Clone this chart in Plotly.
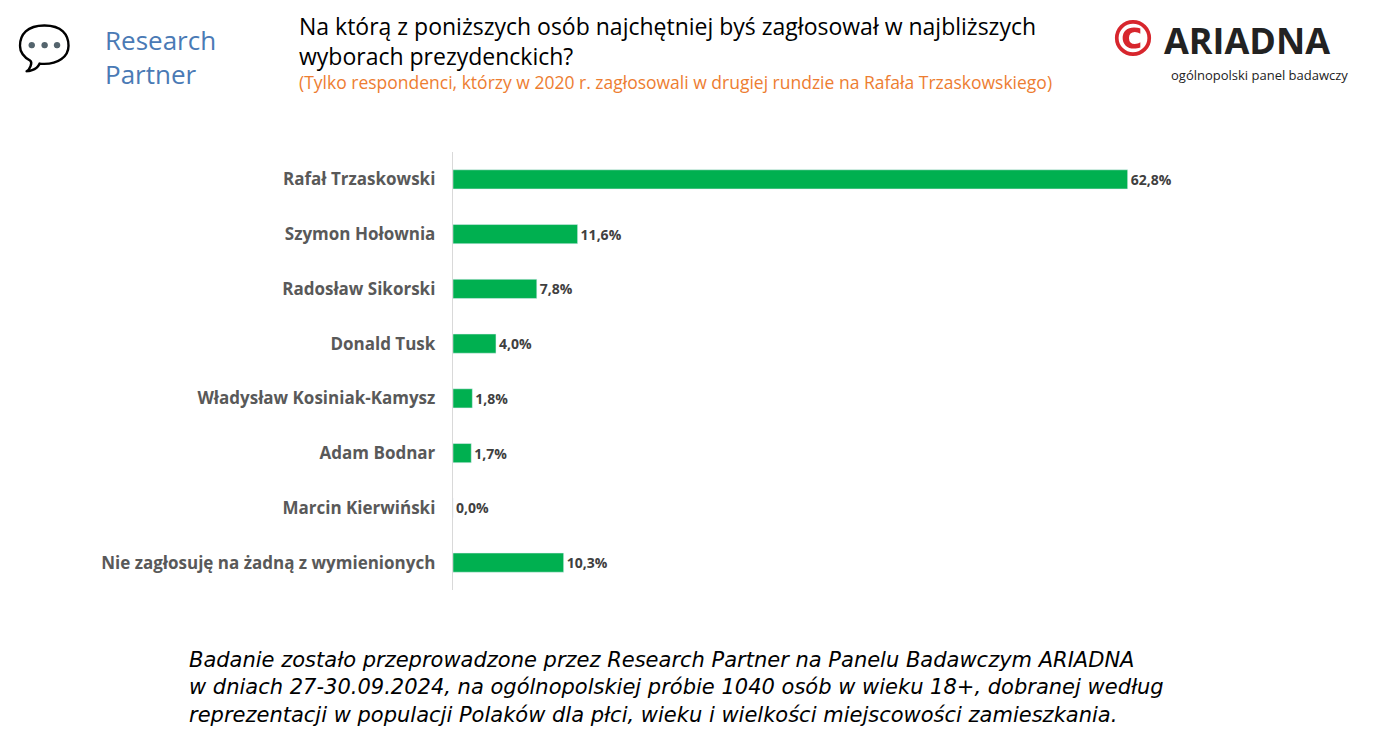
import plotly
import plotly.graph_objects as go
import numpy as np

# survey data

L, R, T, B = 445, 179, 144, 168  # plot margins in pixels (page adds 8px offset)

def px(x):
    return (x - 8 - L) / (1376 - L - R)

def py(y):
    return (750 - B - (y - 8)) / (750 - T - B)

def plotData(names, values, note):
    labels = ['<b>' + ('%.1f' % v).replace('.', ',') + '%</b>' for v in values]
    names = ['<b>' + n + '</b>' for n in names]

    fig = go.Figure()

    fig.add_trace(go.Bar(x=values, y=names, orientation='h',
                         marker_color='#00b050', width=0.35,
                         text=labels, textposition='outside',
                         textfont=dict(size=14, color='#404040', family='Open Sans'),
                         cliponaxis=False))

    fig.update_xaxes(range=[0, 70], visible=False)
    fig.update_yaxes(autorange='reversed', showline=True, linecolor='#d9d9d9',
                     ticks='', ticksuffix='   ',
                     tickfont=dict(size=17, color='#595959', family='Open Sans'))

    # titles
    fig.add_annotation(x=px(297), y=py(8), xref='paper', yref='paper', xanchor='left', yanchor='top',
                       align='left', showarrow=False,
                       text='Na którą z poniższych osób najchętniej byś zagłosował w najbliższych<br>wyborach prezydenckich?',
                       font=dict(size=23, color='black', family='Open Sans'))
    fig.add_annotation(x=px(297), y=py(68), xref='paper', yref='paper', xanchor='left', yanchor='top',
                       showarrow=False,
                       text='(Tylko respondenci, którzy w 2020 r. zagłosowali w drugiej rundzie na Rafała Trzaskowskiego)',
                       font=dict(size=17.5, color='#ed7d31', family='Open Sans'))
    # logos
    fig.add_annotation(x=px(103), y=py(20), xref='paper', yref='paper', xanchor='left', yanchor='top',
                       align='left', showarrow=False, text='Research<br>Partner',
                       font=dict(size=26, color='#4a7ab5', family='Open Sans'))
    fig.add_annotation(x=px(15), y=py(14), xref='paper', yref='paper', xanchor='left', yanchor='top',
                       showarrow=False, text='💬', font=dict(size=44, color='#4a7ab5'))
    fig.add_annotation(x=px(1106), y=py(8), xref='paper', yref='paper', xanchor='left', yanchor='top',
                       showarrow=False, text='<b>©</b>', font=dict(size=50, color='#d7262d', family='DejaVu Sans'))
    fig.add_annotation(x=px(1162), y=py(14), xref='paper', yref='paper', xanchor='left', yanchor='top',
                       showarrow=False, text='<b>ARIADNA</b>', font=dict(size=36, color='#222222', family='Open Sans'))
    fig.add_annotation(x=px(1350), y=py(64), xref='paper', yref='paper', xanchor='right', yanchor='top',
                       showarrow=False, text='ogólnopolski panel badawczy',
                       font=dict(size=13, color='#222222', family='Open Sans'))
    # footnote
    fig.add_annotation(x=px(187), y=py(646), xref='paper', yref='paper', xanchor='left', yanchor='top',
                       align='left', showarrow=False, text=note,
                       font=dict(size=21, color='black', family='DejaVu Sans'))

    fig.update_layout(showlegend=False, width=1376, height=750,
                      plot_bgcolor='white', paper_bgcolor='white',
                      margin=dict(l=L, r=R, t=T, b=B))
    fig.write_html('out.html')

if __name__ == '__main__':
    names = ['Rafał Trzaskowski', 'Szymon Hołownia', 'Radosław Sikorski', 'Donald Tusk',
             'Władysław Kosiniak-Kamysz', 'Adam Bodnar', 'Marcin Kierwiński',
             'Nie zagłosuję na żadną z wymienionych']
    values = [62.8, 11.6, 7.8, 4.0, 1.8, 1.7, 0.0, 10.3]
    note = ('<i>Badanie zostało przeprowadzone przez Research Partner na Panelu Badawczym ARIADNA<br>'
            'w dniach 27-30.09.2024, na ogólnopolskiej próbie 1040 osób w wieku 18+, dobranej według<br>'
            'reprezentacji w populacji Polaków dla płci, wieku i wielkości miejscowości zamieszkania.</i>')
    plotData(names, values, note)
